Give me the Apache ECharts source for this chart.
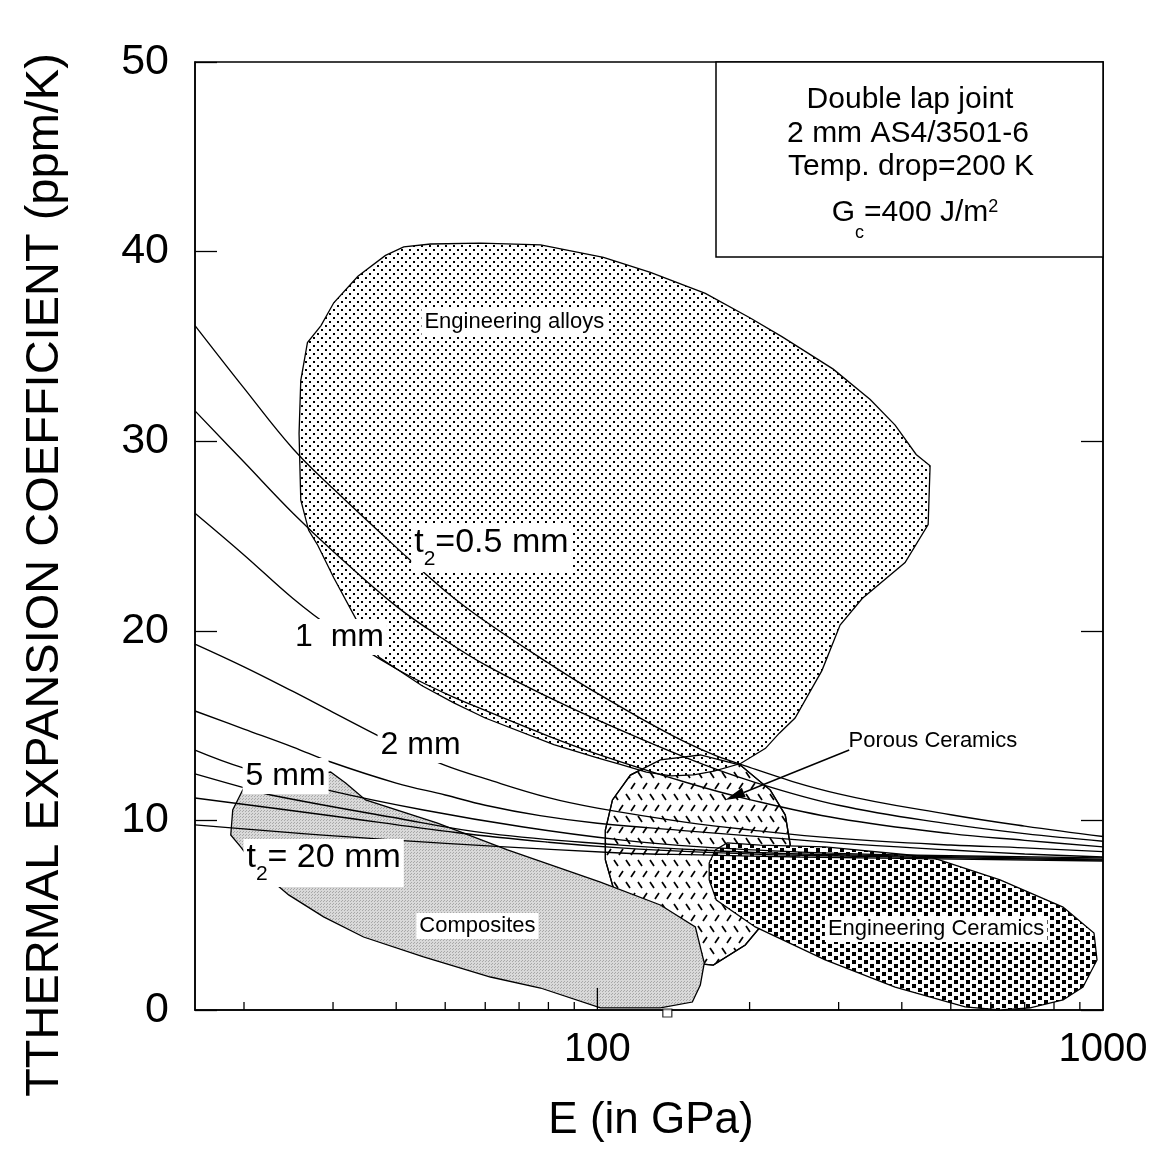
<!DOCTYPE html>
<html>
<head>
<meta charset="utf-8">
<title>Thermal expansion coefficient vs. modulus — double lap joint</title>
<script src="https://cdn.jsdelivr.net/npm/echarts@6/dist/echarts.min.js"></script>
<style>
  html, body { margin: 0; padding: 0; background: #fff; }
  #chart { width: 1157px; height: 1150px; }
</style>
</head>
<body>
<div id="chart"></div>
<script>
// ---------------------------------------------------------------
// Data: E in GPa (log axis), alpha in ppm/K
// ---------------------------------------------------------------

// Modulus sample points shared by the four upper design curves
const modulusGrid = [16, 20, 25, 30, 40, 50, 60, 80, 100, 150, 200, 300, 500, 700, 1000];

// Critical thermal expansion coefficient for increasing adherend thickness t2
const curveT05 = [36.1, 32.8, 29.6, 27.5, 24.4, 22.1, 20.5, 18.3, 16.7, 14.1, 12.8, 11.4, 10.3, 9.7, 9.15];
const curveT075 = [31.6, 28.9, 26.2, 24.2, 21.3, 19.5, 18.2, 16.5, 15.3, 13.3, 12.1, 10.8, 9.8, 9.3, 8.9];
const curveT1 = [26.2, 24.0, 21.7, 20.1, 18.0, 16.7, 15.8, 14.45, 13.5, 12.0, 11.1, 10.1, 9.3, 8.95, 8.6];
const curveT2 = [19.3, 18.1, 16.8, 15.7, 14.0, 12.9, 12.2, 11.2, 10.65, 9.9, 9.5, 9.05, 8.7, 8.55, 8.35];

const curveT3E = [16, 20, 25, 29.7, 40, 50, 60, 77, 100, 150, 200, 300, 500, 700, 1000];
const curveT3 = [15.77, 14.82, 13.87, 13.08, 11.97, 11.34, 10.8, 10.25, 9.85, 9.45, 9.18, 8.8, 8.44, 8.23, 8.07];

const curveT5E = [16, 20, 29.3, 45.3, 71.4, 111, 160, 252, 397, 1000];
const curveT5 = [13.71, 12.76, 11.6, 10.55, 9.65, 8.97, 8.6, 8.33, 8.18, 8.02];

const curveT8E = [16, 19.8, 22.6, 39, 61.4, 111, 160, 252, 1000];
const curveT8 = [12.45, 11.76, 11.34, 10.18, 9.3, 8.7, 8.44, 8.23, 7.96];

const curveT12E = [16, 28.7, 52.9, 80, 111, 160, 252, 1000];
const curveT12 = [11.18, 10.3, 9.35, 8.85, 8.55, 8.33, 8.16, 7.91];

const curveT20E = [16, 39, 111, 160, 252, 1000];
const curveT20 = [9.76, 8.97, 8.28, 8.18, 8.07, 7.86];

// Material property envelopes (outline vertices, [E, alpha])
const alloysRegion = [
  [38.1, 39.8], [41.4, 40.25], [46.8, 40.4], [58.7, 40.45], [77.2, 40.35], [102.8, 39.7],
  [127.3, 38.9], [163.5, 37.8], [200.6, 36.5], [232.1, 35.5], [292.7, 33.8], [346.4, 32.2],
  [388, 30.85], [427, 29.3], [455, 28.7], [451, 25.6], [406, 23.6], [334, 21.7], [302, 20.3],
  [278, 17.9], [246, 15.4], [229, 14.6], [215, 13.8], [192, 13.0], [170, 12.6], [155, 12.4],
  [140, 12.35], [125, 12.55], [111, 12.95], [100, 13.3], [82, 14.0], [60, 15.4], [52, 16.2],
  [45, 17.1], [37, 18.6], [33.5, 20.5], [30.1, 22.8], [28.0, 24.5], [26.85, 25.3], [25.9, 26.9],
  [25.7, 30.4], [25.9, 33.2], [26.7, 35.2], [28.4, 36.1], [30.1, 37.3], [33.6, 38.7]
];
const porousRegion = [
  [159.8, 13.45], [191.7, 12.92], [219.8, 11.6], [235.3, 10.28], [240.7, 8.7], [235.3, 6.86],
  [219.8, 5.01], [196.1, 3.43], [169.5, 2.37], [152.7, 2.48], [133.2, 3.16], [118.9, 4.48],
  [108.5, 6.07], [103.7, 7.91], [103.7, 9.49], [107.1, 11.08], [116.2, 12.39], [133.2, 13.19]
];
const compositesRegion = [
  [19.97, 11.71], [29.67, 12.55], [31.77, 11.97], [34.79, 11.08], [48.29, 9.86], [66.4, 8.44],
  [101.4, 6.75], [133.2, 5.54], [156.2, 4.38], [162.7, 2.48], [159.8, 1.32], [154.1, 0.42],
  [133.2, 0.11], [101.4, 0.11], [77.16, 1.16], [61.44, 1.74], [45.3, 2.8], [34.47, 3.85],
  [28.74, 4.91], [24.51, 6.07], [21.1, 7.54], [19.7, 8.6], [18.83, 9.23], [19.0, 10.55]
];
const ceramicsRegion = [
  [166.4, 7.75], [171.1, 8.44], [180.6, 8.81], [209.9, 8.7], [282.2, 8.6], [455, 8.07],
  [625.8, 6.86], [833.6, 5.43], [959.8, 4.06], [973, 2.64], [912.8, 1.21], [833.6, 0.53],
  [717.5, 0.11], [625.8, 0.0], [533.8, 0.16], [388, 1.21], [282.2, 2.64], [205.2, 4.38],
  [171.9, 5.8], [166.4, 6.86]
];

// Axis ticks and labels
const xMinorTicks = [20, 30, 40, 50, 60, 70, 80, 90, 200, 300, 400, 500, 600, 700, 800, 900];
const xMajorTicks = [100];
const xTickLabels = [100, 1000];

// Annotation texts and their anchor points [E, alpha]
const noteTexts = [
  'Engineering alloys',
  '{m|t}{s|2}{m|=0.5 mm}',
  '1  mm',
  '2 mm',
  '5 mm',
  '{m|t}{s|2}{m|= 20 mm}',
  'Composites',
  'Porous Ceramics',
  'Engineering Ceramics'
];
const noteAnchors = [
  [68.5, 36.29], [61.7, 24.37], [30.9, 19.67], [44.7, 13.98], [24.17, 12.34],
  [28.74, 7.75], [57.9, 4.43], [461, 14.19], [467.7, 4.27]
];
const arrowFrom = [314.8, 13.71];
const arrowTo = [179.0, 11.08];
const strayMark = [[137.5, -0.16]];

// ---------------------------------------------------------------
// Styling helpers
// ---------------------------------------------------------------
const FONT = '"Liberation Sans", Arial, Helvetica, sans-serif';
const font = (px) => px + 'px ' + FONT;

function makePattern(w, h, draw) {
  const c = document.createElement('canvas');
  c.width = w; c.height = h;
  const ctx = c.getContext('2d');
  ctx.fillStyle = '#fff';
  ctx.fillRect(0, 0, w, h);
  draw(ctx);
  return { image: c, repeat: 'repeat' };
}

// fine black dots
const dotFill = makePattern(8, 8, (ctx) => {
  ctx.fillStyle = '#000';
  ctx.fillRect(1, 1, 2, 2);
  ctx.fillRect(5, 5, 2, 2);
});
// short slanted dashes, alternating direction row by row
const dashFill = makePattern(24, 22, (ctx) => {
  ctx.strokeStyle = '#000';
  ctx.lineWidth = 1.7;
  ctx.beginPath();
  ctx.moveTo(2, 2); ctx.lineTo(6, 8);
  ctx.moveTo(14, 2); ctx.lineTo(18, 8);
  ctx.moveTo(11, 13); ctx.lineTo(7, 19);
  ctx.moveTo(23, 13); ctx.lineTo(19, 19);
  ctx.stroke();
});
// separate black squares in staggered rows
const squareFill = makePattern(12, 8, (ctx) => {
  ctx.fillStyle = '#000';
  ctx.fillRect(0, 0, 4, 4);
  ctx.fillRect(6, 4, 4, 4);
});
// light grey halftone
const greyFill = makePattern(3, 3, (ctx) => {
  ctx.fillStyle = '#d9d9d9';
  ctx.fillRect(0, 0, 3, 3);
  ctx.fillStyle = '#a8a8a8';
  ctx.fillRect(0, 0, 1, 1);
  ctx.fillRect(2, 1, 1, 1);
});

function regionSeries(name, pts, fill, z, outlineOnly) {
  return {
    type: 'custom', name, z, silent: true,
    data: [pts[0]],
    renderItem: (params, api) => ({
      type: 'polygon',
      shape: { points: pts.map((p) => api.coord(p)) },
      style: { fill: outlineOnly ? 'none' : fill, stroke: '#000', lineWidth: 1.3 }
    })
  };
}

function curveSeries(name, es, vals) {
  return {
    type: 'line', name, z: 6, silent: true,
    data: es.map((e, i) => [e, vals[i]]),
    smooth: 0.4,
    showSymbol: false, symbol: 'none',
    lineStyle: { color: '#000', width: 1.35 }
  };
}

function tickSeries(values, len) {
  return {
    type: 'custom', z: 7, silent: true,
    data: values.map((v) => [v, 0]),
    renderItem: (params, api) => {
      const p = api.coord([api.value(0), 0]);
      return {
        type: 'line',
        shape: { x1: p[0], y1: p[1], x2: p[0], y2: p[1] - len },
        style: { stroke: '#000', lineWidth: 1.3 }
      };
    }
  };
}

const noteSizes = [22, 34, 32, 32, 32, 34, 22, 22, 22];
const noteBackground = [true, true, true, true, true, true, true, false, true];
const subRich = {
  m: { font: font(34), verticalAlign: 'top', lineHeight: 38 },
  s: { font: font(21), verticalAlign: 'top', padding: [23, 0, 0, 0] }
};

function boxLine(text, x, y) {
  return {
    type: 'text', x, y, z: 21,
    style: { text, font: font(30), fill: '#000',
      align: 'center', verticalAlign: 'middle', textAlign: 'center', textVerticalAlign: 'middle' }
  };
}

const option = {
  animation: false,
  backgroundColor: '#fff',
  grid: {
    left: 195, right: 54, top: 62, bottom: 140,
    show: true, borderColor: '#000', borderWidth: 1.5, backgroundColor: 'transparent',
    outerBoundsMode: 'none'
  },
  xAxis: {
    type: 'log', logBase: 10, min: 16, max: 1000,
    axisLine: { show: true, lineStyle: { color: '#000', width: 1.5 } },
    axisTick: { show: false },
    splitLine: { show: false },
    minorTick: { show: false },
    axisLabel: {
      color: '#000', fontSize: 40, fontFamily: FONT, margin: 20,
      formatter: (v) => {
        const r = Math.round(v);
        return xTickLabels.indexOf(r) >= 0 && Math.abs(v - r) < 1e-6 * r ? String(r) : '';
      }
    }
  },
  yAxis: [
    {
      type: 'value', min: 0, max: 50, interval: 10,
      axisLine: { show: true, lineStyle: { color: '#000', width: 1.5 } },
      axisTick: { show: true, inside: true, length: 22, lineStyle: { color: '#000', width: 1.3 } },
      splitLine: { show: false },
      axisLabel: { color: '#000', fontSize: 43, fontFamily: FONT, margin: 26 }
    },
    {
      type: 'value', min: 0, max: 50, interval: 10, position: 'right',
      axisLine: { show: true, lineStyle: { color: '#000', width: 1.5 } },
      axisTick: { show: true, inside: true, length: 22, lineStyle: { color: '#000', width: 1.3 } },
      splitLine: { show: false },
      axisLabel: { show: false }
    }
  ],
  graphic: [
    {
      type: 'text', x: 45, y: 575, rotation: Math.PI / 2, z: 20,
      style: {
        text: 'TTHERMAL EXPANSION COEFFICIENT (ppm/K)', font: font(47), fill: '#000',
        align: 'center', verticalAlign: 'middle', textAlign: 'center', textVerticalAlign: 'middle'
      }
    },
    {
      type: 'text', x: 651, y: 1121, z: 20,
      style: {
        text: 'E (in GPa)', font: font(44), fill: '#000',
        align: 'center', verticalAlign: 'middle', textAlign: 'center', textVerticalAlign: 'middle'
      }
    },
    {
      type: 'rect', z: 20,
      shape: { x: 716, y: 62, width: 387, height: 195 },
      style: { fill: '#fff', stroke: '#000', lineWidth: 1.5 }
    },
    boxLine('Double lap joint', 910, 100),
    boxLine('2 mm AS4/3501-6', 908, 134),
    boxLine('Temp. drop=200 K', 911, 167),
    {
      type: 'text', x: 915, y: 198, z: 21,
      style: {
        text: '{g|G}{c|c}{g|=400 J/m}{p|2}', font: font(30), fill: '#000',
        align: 'center', verticalAlign: 'top', textAlign: 'center', textVerticalAlign: 'top',
        rich: {
          g: { font: font(30), verticalAlign: 'top' },
          c: { font: font(18), verticalAlign: 'top', padding: [26, 0, 0, 0] },
          p: { font: font(18), verticalAlign: 'top' }
        }
      }
    }
  ],
  series: [
    regionSeries('porous ceramics', porousRegion, dashFill, 2),
    regionSeries('engineering alloys', alloysRegion, dotFill, 3),
    regionSeries('porous ceramics outline', porousRegion, null, 3, true),
    regionSeries('composites', compositesRegion, greyFill, 4),
    regionSeries('engineering ceramics', ceramicsRegion, squareFill, 5),

    curveSeries('t2 0.5 mm', modulusGrid, curveT05),
    curveSeries('t2 0.75 mm', modulusGrid, curveT075),
    curveSeries('t2 1 mm', modulusGrid, curveT1),
    curveSeries('t2 2 mm', modulusGrid, curveT2),
    curveSeries('t2 3 mm', curveT3E, curveT3),
    curveSeries('t2 5 mm', curveT5E, curveT5),
    curveSeries('t2 8 mm', curveT8E, curveT8),
    curveSeries('t2 12 mm', curveT12E, curveT12),
    curveSeries('t2 20 mm', curveT20E, curveT20),

    tickSeries(xMinorTicks, 8),
    tickSeries(xMajorTicks, 22),

    {
      type: 'custom', z: 8, silent: true,
      data: [arrowFrom],
      renderItem: (params, api) => {
        const a = api.coord(arrowFrom);
        const b = api.coord(arrowTo);
        const dx = b[0] - a[0], dy = b[1] - a[1];
        const L = Math.hypot(dx, dy), ux = dx / L, uy = dy / L;
        const head = 20, half = 5;
        const base = [b[0] - ux * head, b[1] - uy * head];
        return {
          type: 'group',
          children: [
            { type: 'line', shape: { x1: a[0], y1: a[1], x2: base[0], y2: base[1] },
              style: { stroke: '#000', lineWidth: 1.5 } },
            { type: 'polygon',
              shape: { points: [b, [base[0] - uy * half, base[1] + ux * half], [base[0] + uy * half, base[1] - ux * half]] },
              style: { fill: '#000' } }
          ]
        };
      }
    },
    {
      type: 'scatter', z: 8, silent: true, clip: false,
      data: strayMark,
      symbol: 'rect', symbolSize: [9, 8],
      itemStyle: { color: '#fff', borderColor: '#000', borderWidth: 1.2 }
    },
    {
      type: 'custom', z: 9, silent: true,
      data: noteAnchors,
      renderItem: (params, api) => {
        const i = params.dataIndex;
        const p = api.coord([api.value(0), api.value(1)]);
        const size = noteSizes[i];
        return {
          type: 'text', x: p[0], y: p[1],
          style: {
            text: noteTexts[i], rich: subRich, font: font(size), fill: '#000',
            align: 'center', verticalAlign: 'middle',
            backgroundColor: noteBackground[i] ? '#fff' : 'transparent',
            padding: [2, 3, 2, 3]
          }
        };
      }
    }
  ]
};

const chart = echarts.init(document.getElementById('chart'), null, { renderer: 'canvas' });
chart.setOption(option);
</script>
</body>
</html>
